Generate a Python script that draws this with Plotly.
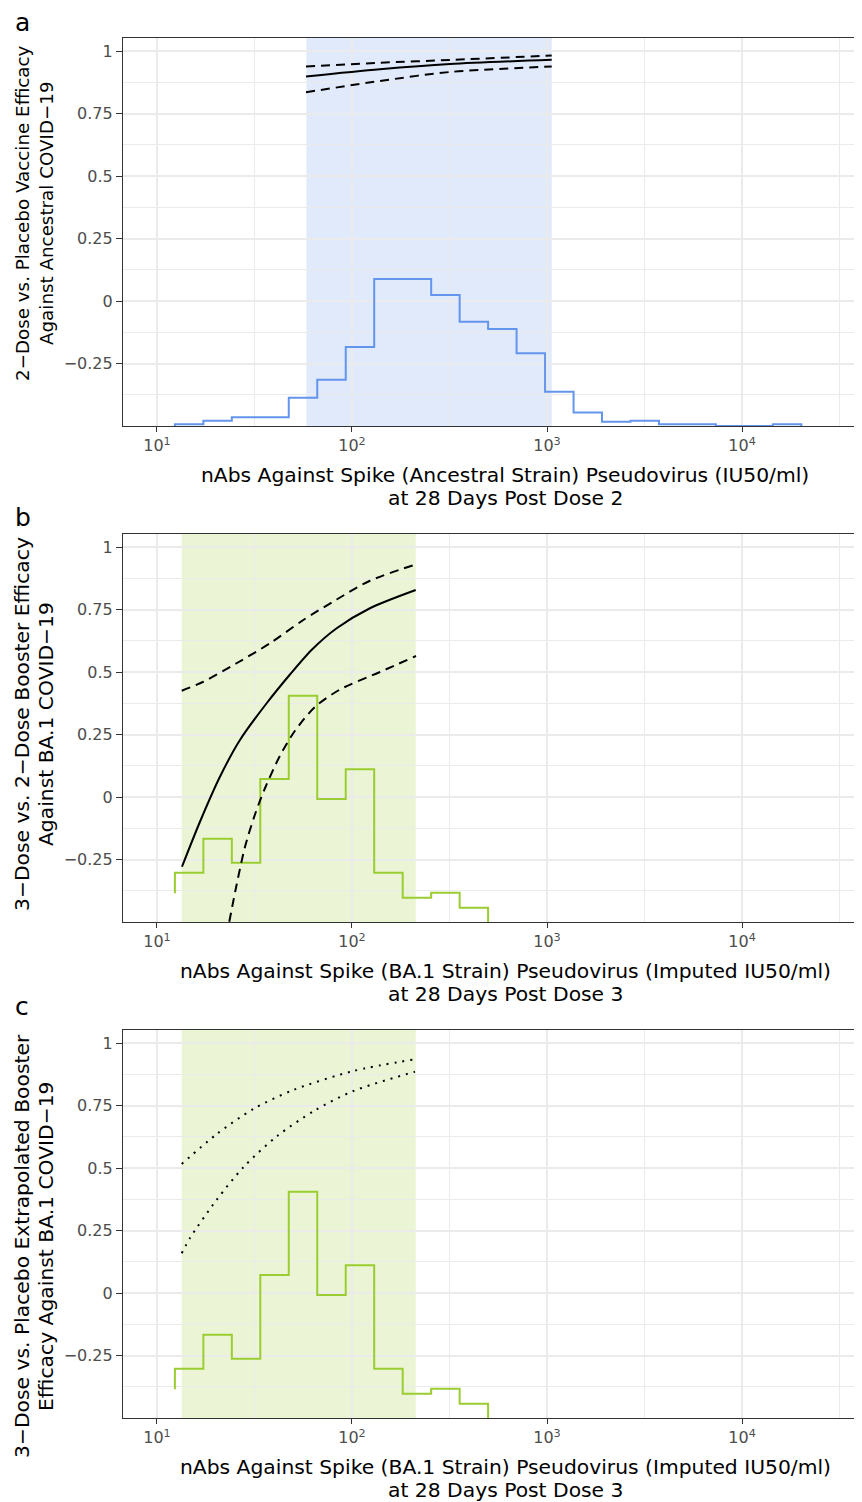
import plotly.graph_objects as go

# ---------------- data ----------------
# histogram bin edges (IU50/ml), shared by all panels
hist_edges = [12.36, 17.30, 24.21, 33.88, 47.42, 66.37, 92.90, 130.0, 182.0, 254.7,
              356.5, 498.9, 698.2, 977.2, 1368, 1914, 2679, 3750, 5248, 7345,
              10280, 14388, 20137]
# panel a histogram (scaled onto the efficacy axis)
hist_a = [-0.493, -0.479, -0.465, -0.465, -0.387, -0.315, -0.184, 0.088, 0.088, 0.024,
          -0.083, -0.112, -0.209, -0.363, -0.446, -0.483, -0.479, -0.493, -0.493, -0.5,
          -0.5, -0.493]
hist_a_start, hist_a_end = -0.5, -0.5
# panel b/c histogram (BA.1)
hist_ba1 = [-0.303, -0.167, -0.263, 0.072, 0.405, -0.008, 0.111, -0.303, -0.403, -0.383, -0.443]
hist_ba1_start, hist_ba1_end = -0.385, -0.5

shade_a = [58.4, 1057]
shade_bc = [13.4, 212.5]

# panel a curves
curve_a_x = [58.1, 139, 318, 1057]
curve_a_est = [0.898, 0.927, 0.948, 0.965]
curve_a_lo = [0.835, 0.880, 0.916, 0.938]
curve_a_hi = [0.938, 0.953, 0.964, 0.982]

# panel b curves
curve_b_x = [13.44, 16.62, 21.04, 26.65, 36.52, 48.1, 62.4, 83.5, 123.6, 212.2]
curve_b_est = [-0.279, -0.099, 0.081, 0.228, 0.375, 0.490, 0.590, 0.675, 0.755, 0.828]
curve_b_hi_x = [13.4, 17.3, 25.6, 38.0, 56.3, 83.5, 123.6, 212.2]
curve_b_hi = [0.425, 0.461, 0.535, 0.615, 0.708, 0.790, 0.865, 0.930]
curve_b_lo_x = [23.49, 25.63, 28.27, 31.81, 35.8, 42.74, 51.03, 64.62, 86.8, 139.2, 212.9]
curve_b_lo = [-0.499, -0.350, -0.200, -0.070, 0.035, 0.165, 0.265, 0.360, 0.430, 0.500, 0.564]

# panel c curves (dotted bounds)
curve_c_hi_x = [13.4, 20.2, 31.2, 50.0, 101.6, 210.4]
curve_c_hi = [0.516, 0.635, 0.736, 0.812, 0.888, 0.935]
curve_c_lo_x = [13.4, 14.75, 20.2, 27.9, 41.4, 64.1, 101.6, 210.4]
curve_c_lo = [0.159, 0.219, 0.372, 0.505, 0.628, 0.729, 0.808, 0.885]

y_ticks = [-0.25, 0, 0.25, 0.5, 0.75, 1]
y_ticktext = ["\u22120.25", "0", "0.25", "0.5", "0.75", "1"]
y_minor = [-0.375, -0.125, 0.125, 0.375, 0.625, 0.875]
x_ticks = [10, 100, 1000, 10000]
x_ticktext = ["10<sup>1</sup>", "10<sup>2</sup>", "10<sup>3</sup>", "10<sup>4</sup>"]
x_minor = [10 ** 0.5, 10 ** 1.5, 10 ** 2.5, 10 ** 3.5, 10 ** 4.5]

panel_letters = ["a", "b", "c"]
y_titles = [["2\u2212Dose vs. Placebo Vaccine Efficacy", "Against Ancestral COVID\u221219"],
            ["3\u2212Dose vs. 2\u2212Dose Booster Efficacy", "Against BA.1 COVID\u221219"],
            ["3\u2212Dose vs. Placebo Extrapolated Booster", "Efficacy Against BA.1 COVID\u221219"]]
x_titles = [["nAbs Against Spike (Ancestral Strain) Pseudovirus (IU50/ml)", "at 28 Days Post Dose 2"],
            ["nAbs Against Spike (BA.1 Strain) Pseudovirus (Imputed IU50/ml)", "at 28 Days Post Dose 3"],
            ["nAbs Against Spike (BA.1 Strain) Pseudovirus (Imputed IU50/ml)", "at 28 Days Post Dose 3"]]

# ---------------- figure geometry (page pixels, body margin 8px) ----------------
OFF = 8
W, H = 862 - OFF, 1502 - OFF
PLOT_L, PLOT_T, PLOT_B = 123, 38, 1418          # page coords
L_M, R_M = PLOT_L - OFF, 0
T_M = PLOT_T - OFF
B_M = H - (PLOT_B - OFF)
PH = H - T_M - B_M
PW = W - L_M - R_M

def py(p):  # page pixel y -> paper
    return min(1.0, max(0.0, (PLOT_B - p) / PH))

def pyf(p):
    return (PLOT_B - p) / PH

def pxx(p):  # page pixel x -> paper
    return (p - PLOT_L) / PW

panel_tops = [38, 534, 1030]
panel_h = 388

BLUE = "#6495ED"
GREEN = "#9ACD32"
FONT = "DejaVu Sans, Liberation Sans, Arial, sans-serif"

fig = go.Figure()

def step_xy(edges, heights, start, end):
    n = len(heights)
    xs = [edges[0]] + list(edges[:n + 1])
    ys = [start] + list(heights) + [end]
    return xs, ys

axes = [("x", "y"), ("x2", "y2"), ("x3", "y3")]
DASH = "9px,6px"
DOT = "2px,6px"
SM = 0.8

def curve(x, y, xa, ya, dash):
    return go.Scatter(x=x, y=y, mode="lines",
                      line=dict(color="black", width=2, dash=dash, shape="spline", smoothing=SM),
                      xaxis=xa, yaxis=ya)

# panel a
xs, ys = step_xy(hist_edges, hist_a, hist_a_start, hist_a_end)
fig.add_trace(go.Scatter(x=xs, y=ys, mode="lines", line=dict(color=BLUE, width=2, shape="hv"),
                         xaxis="x", yaxis="y"))
fig.add_trace(curve(curve_a_x, curve_a_hi, "x", "y", DASH))
fig.add_trace(curve(curve_a_x, curve_a_lo, "x", "y", DASH))
fig.add_trace(curve(curve_a_x, curve_a_est, "x", "y", "solid"))

# panel b
xs, ys = step_xy(hist_edges, hist_ba1, hist_ba1_start, hist_ba1_end)
fig.add_trace(go.Scatter(x=xs, y=ys, mode="lines", line=dict(color=GREEN, width=2, shape="hv"),
                         xaxis="x2", yaxis="y2"))
fig.add_trace(curve(curve_b_hi_x, curve_b_hi, "x2", "y2", DASH))
fig.add_trace(curve(curve_b_lo_x, curve_b_lo, "x2", "y2", DASH))
fig.add_trace(curve(curve_b_x, curve_b_est, "x2", "y2", "solid"))

# panel c
fig.add_trace(go.Scatter(x=xs, y=ys, mode="lines", line=dict(color=GREEN, width=2, shape="hv"),
                         xaxis="x3", yaxis="y3"))
fig.add_trace(curve(curve_c_hi_x, curve_c_hi, "x3", "y3", DOT))
fig.add_trace(curve(curve_c_lo_x, curve_c_lo, "x3", "y3", DOT))

# shaded ranges
for (xa, ya), rng, col in [(("x", "y"), shade_a, "rgba(100,149,237,0.2)"),
                           (("x2", "y2"), shade_bc, "rgba(154,205,50,0.2)"),
                           (("x3", "y3"), shade_bc, "rgba(154,205,50,0.2)")]:
    fig.add_shape(type="rect", xref=xa, yref=ya + " domain", x0=rng[0], x1=rng[1], y0=0, y1=1,
                  fillcolor=col, line=dict(width=0), layer="below")

layout = dict(width=W, height=H, margin=dict(l=L_M, r=R_M, t=T_M, b=B_M),
              plot_bgcolor="white", paper_bgcolor="white", showlegend=False,
              font=dict(family=FONT, color="black"))

for i, (xa, ya) in enumerate(axes):
    top = panel_tops[i]
    dom = [py(top + panel_h), py(top)]
    xkey = "xaxis" if i == 0 else f"xaxis{i+1}"
    ykey = "yaxis" if i == 0 else f"yaxis{i+1}"
    layout[xkey] = dict(type="log", range=[0.826, 4.615], domain=[0, 1], anchor=ya,
                        tickvals=x_ticks, ticktext=x_ticktext, ticks="outside", ticklen=5,
                        tickwidth=1.2, tickcolor="#333333",
                        tickfont=dict(size=16, color="#4D4D4D", family=FONT),
                        showgrid=True, gridcolor="#EBEBEB", gridwidth=1.6,
                        minor=dict(tickvals=x_minor, showgrid=True, gridcolor="#EBEBEB",
                                   gridwidth=0.8, ticks=""),
                        showline=True, linecolor="#333333", linewidth=1.2, mirror=True,
                        zeroline=False, fixedrange=True)
    layout[ykey] = dict(range=[-0.5, 1.052], domain=dom, anchor=xa,
                        tickvals=y_ticks, ticktext=y_ticktext, ticks="outside", ticklen=6,
                        tickwidth=1.2, tickcolor="#333333",
                        tickfont=dict(size=16, color="#4D4D4D", family=FONT),
                        showgrid=True, gridcolor="#EBEBEB", gridwidth=1.6,
                        minor=dict(tickvals=y_minor, showgrid=True, gridcolor="#EBEBEB",
                                   gridwidth=0.8, ticks=""),
                        showline=True, linecolor="#333333", linewidth=1.2, mirror=False,
                        zeroline=False, fixedrange=True)

fig.update_layout(**layout)

annotations = []
letter_y = [23, 517, 1006]
ytitle_c = [213, 724, 1246]
ytitle_size = [18.3, 20.3, 20.3]
ytitle_x = [22, 46]
xtitle_y = [[475, 498], [971, 994], [1467, 1490]]
TITLE_SIZE = 20.3
for i in range(3):
    annotations.append(dict(text=panel_letters[i], xref="paper", yref="paper",
                            x=pxx(13), y=pyf(letter_y[i]), xanchor="left", yanchor="middle",
                            showarrow=False, font=dict(size=25, color="black", family=FONT)))
    for j in range(2):
        annotations.append(dict(text=y_titles[i][j], xref="paper", yref="paper",
                                x=pxx(ytitle_x[j]), y=pyf(ytitle_c[i]), xanchor="center",
                                yanchor="middle", textangle=-90, showarrow=False,
                                font=dict(size=ytitle_size[i], color="black", family=FONT)))
        annotations.append(dict(text=x_titles[i][j], xref="paper", yref="paper",
                                x=pxx(505), y=pyf(xtitle_y[i][j]), xanchor="center",
                                yanchor="middle", showarrow=False,
                                font=dict(size=TITLE_SIZE, color="black", family=FONT)))
fig.update_layout(annotations=annotations)

fig.write_html("out.html")
